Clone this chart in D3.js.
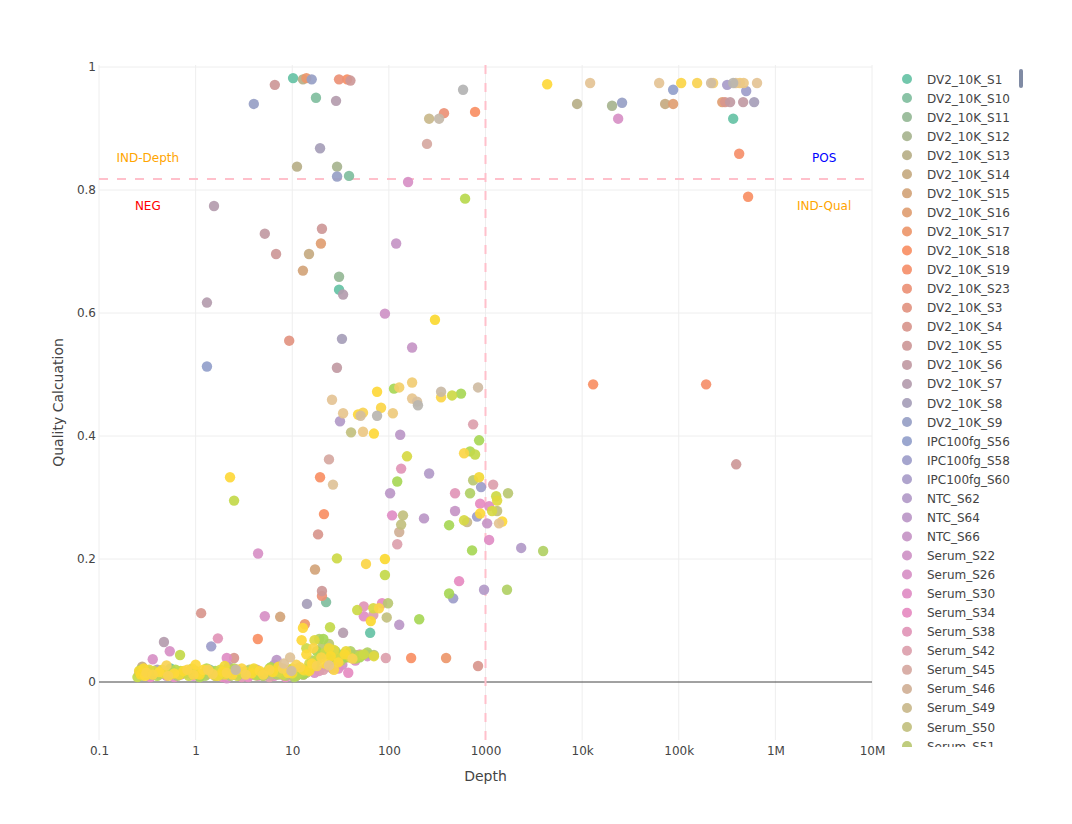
<!DOCTYPE html>
<html><head><meta charset="utf-8">
<script src="https://cdn.jsdelivr.net/npm/d3@7"></script>
<style>body{margin:0;background:#fff;} text{font-family:"DejaVu Sans",Verdana,Arial,sans-serif;}</style>
</head><body><svg id="c" width="1072" height="824"></svg>
<script>
const seriesNames = ["DV2_10K_S1","DV2_10K_S10","DV2_10K_S11","DV2_10K_S12","DV2_10K_S13","DV2_10K_S14","DV2_10K_S15","DV2_10K_S16","DV2_10K_S17","DV2_10K_S18","DV2_10K_S19","DV2_10K_S23","DV2_10K_S3","DV2_10K_S4","DV2_10K_S5","DV2_10K_S6","DV2_10K_S7","DV2_10K_S8","DV2_10K_S9",
"IPC100fg_S56","IPC100fg_S58","IPC100fg_S60","NTC_S62","NTC_S64","NTC_S66",
"Serum_S22","Serum_S26","Serum_S30","Serum_S34","Serum_S38","Serum_S42","Serum_S45","Serum_S46","Serum_S49","Serum_S50","Serum_S51",
"Serum_S52","Serum_S53","Serum_S54","Serum_S55","Serum_S56","Serum_S57","Serum_S58","Serum_S59","Serum_S60","Serum_S61","Serum_S62","Serum_S63","Serum_S64","Serum_S65","Serum_S66","Serum_S67","Serum_S68","Serum_S69","Serum_S70","Serum_S71","Serum_S72","Serum_S73","Serum_S74","Serum_S75","Serum_S76","Serum_S77","Serum_S78","Serum_S79","Serum_S80","Serum_S81"];
const paletteAnchors = ["#66c2a5","#fc8d62","#8da0cb","#e78ac3","#a6d854","#ffd92f","#e5c494","#b3b3b3"];
const xTickValues = [0.1,1,10,100,1000,1e4,1e5,1e6,1e7];
const xTickLabels = ["0.1","1","10","100","1000","10k","100k","1M","10M"];
const yTickValues = [0,0.2,0.4,0.6,0.8,1];
const depthCutoff = 1000;
const qualityCutoff = 0.818;
// [series index, depth, quality]
const points = [
[0,10.2,0.982],[4,12.9,0.98],[8,14,0.982],[18,15.9,0.98],[11,30.5,0.98],[9,37,0.98],[14,40,0.978],[14,6.6,0.971],[18,4.0,0.94],[1,17.6,0.95],[16,28.4,0.945],[65,586,0.963],[11,372,0.925],[9,780,0.927],[33,261,0.916],[62,331,0.916],[31,248,0.875],[17,19.4,0.868],[4,11.2,0.838],[3,29.1,0.838],[18,29.1,0.822],[1,38.7,0.823],[26,158,0.813],[39,615,0.786],[16,1.55,0.774],[15,5.2,0.729],[14,20.3,0.737],[7,19.8,0.713],[24,119,0.713],[14,6.8,0.696],[5,14.9,0.696],[6,12.9,0.669],[2,30.5,0.659],[0,30.5,0.638],[16,33.6,0.63],[16,1.31,0.617],[25,91,0.599],[46,300,0.589],[12,9.3,0.555],[17,32.7,0.558],[19,1.31,0.513],[47,2.27,0.333],[40,2.5,0.295],[26,4.43,0.209],
[24,174,0.544],[15,29,0.511],[52,174,0.487],[47,75.5,0.472],[37,113,0.477],[51,128,0.479],[56,25.8,0.459],[55,174,0.461],[58,196,0.456],[64,200,0.45],[61,347,0.472],[48,347,0.463],[41,451,0.466],[37,558,0.469],[60,837,0.479],[55,33.6,0.437],[47,48,0.435],[49,54,0.438],[59,51,0.433],[48,83,0.446],[64,75.5,0.433],[53,110,0.437],[22,31.2,0.424],[34,40.6,0.406],[54,54,0.407],[47,70,0.404],[23,131,0.402],[30,745,0.419],[37,859,0.393],[48,600,0.372],[38,692,0.375],[40,780,0.37],[31,24,0.362],[42,154,0.367],[9,19.4,0.333],[57,26.4,0.321],[29,134,0.347],[22,261,0.339],[37,122,0.326],[35,745,0.328],[45,859,0.333],[20,900,0.317],[30,1200,0.321],[23,103,0.307],[29,484,0.307],[36,692,0.307],[41,1290,0.302],[43,1320,0.295],[35,1710,0.307],[28,880,0.29],[27,1090,0.286],[9,21.3,0.273],[27,108,0.271],[34,140,0.271],[23,231,0.266],[24,484,0.278],[20,818,0.269],[47,880,0.274],[42,1170,0.278],[34,1320,0.278],[42,600,0.263],[33,645,0.26],[24,1040,0.258],[56,1380,0.258],[47,1490,0.261],[34,134,0.256],[32,128,0.244],[13,18.5,0.24],[37,420,0.255],[30,122,0.224],[27,1090,0.231],[37,726,0.214],[22,2340,0.218],[36,3950,0.213],[41,29,0.201],[48,58,0.192],[46,91,0.2],[6,17.2,0.183],[40,91,0.174],[14,20.3,0.148],[11,20.3,0.14],[1,22.4,0.13],[17,14.2,0.127],[28,533,0.164],[37,420,0.144],[20,463,0.136],[22,966,0.15],[36,1670,0.15],[29,55,0.123],[28,85,0.128],[35,98,0.128],[41,47,0.117],[42,69,0.12],[48,79,0.12],[27,55,0.107],[30,69,0.109],[34,95,0.105],[46,65,0.099],[23,128,0.093],[37,206,0.102],[8,13.5,0.094],[47,12.9,0.088],[40,24.6,0.089],[16,33.6,0.08],[0,64,0.08],[30,93,0.039],[9,170,0.039],[8,391,0.039],[13,837,0.026],[13,1.14,0.112],[26,5.2,0.107],[6,7.5,0.106],[16,0.47,0.065],[29,1.7,0.071],[20,1.45,0.058],[9,4.4,0.07],[26,0.54,0.05],[40,0.69,0.044],[26,0.36,0.037],[13,2.5,0.039],[27,2.1,0.039],[23,6.9,0.036],[57,9.5,0.04],
[47,4350,0.972],[4,8870,0.94],[56,12100,0.974],[3,20400,0.937],[18,25900,0.942],[26,23600,0.916],[56,62700,0.974],[19,87500,0.963],[48,106000,0.974],[5,72300,0.94],[7,87500,0.94],[49,155000,0.974],[60,216000,0.974],[52,227000,0.974],[7,282000,0.943],[13,302000,0.943],[15,340000,0.943],[21,317000,0.971],[64,366000,0.974],[55,390000,0.974],[52,430000,0.974],[54,470000,0.974],[20,499000,0.961],[0,366000,0.916],[15,464000,0.943],[17,603000,0.943],[56,646000,0.974],[10,422000,0.859],[9,522000,0.789],[9,13000,0.484],[10,192000,0.484],[14,393000,0.354],
[46,0.27,0.012],[47,0.3,0.01],[48,0.31,0.015],[45,0.45,0.02],[47,0.6,0.014],[46,0.75,0.018],[48,0.95,0.012],[47,1.2,0.02],[49,1.5,0.013],[46,1.9,0.017],[47,2.4,0.012],[48,3.0,0.022],[46,3.8,0.014],[47,4.6,0.018],[48,5.8,0.02],[46,7.2,0.025],[47,9.0,0.015],[49,11,0.028],[46,13,0.02],[47,16,0.03],[48,20,0.04],[46,25,0.042],[47,30,0.032],[45,2.0,0.026],[47,1.0,0.028],[49,0.5,0.027],[47,12.5,0.068],
[45,0.26,0.018],[46,0.29,0.022],[48,0.36,0.012],[47,0.42,0.016],[49,0.52,0.01],[45,0.68,0.012],[48,0.82,0.02],[46,1.1,0.012],[49,1.35,0.02],[45,1.7,0.01],[48,2.1,0.015],[46,2.7,0.02],[49,3.3,0.012],[45,4.0,0.022],[48,5.0,0.012],[46,6.3,0.016],[49,8.0,0.022],[45,10,0.014],[48,12,0.024],[46,15,0.018],[49,18,0.026],[47,22,0.03],[48,27,0.02],[46,35,0.045],[49,42,0.038],[47,14,0.045],[48,16.5,0.055],[45,24,0.055],
[40,0.25,0.008],[41,0.28,0.015],[43,0.33,0.02],[39,0.4,0.01],[42,0.55,0.012],[40,0.7,0.018],[41,0.85,0.01],[43,1.05,0.014],[39,1.3,0.022],[42,1.6,0.01],[40,2.2,0.018],[41,2.7,0.01],[43,3.4,0.016],[39,4.2,0.011],[42,5.2,0.015],[40,6.5,0.018],[41,8,0.012],[43,10,0.022],[39,12,0.015],[42,15,0.03],[40,18,0.035],[41,22,0.048],[43,27,0.052],[39,33,0.045],[42,40,0.04],[40,50,0.043],[41,14,0.055],[43,17,0.068],
[38,0.27,0.02],[40,0.31,0.012],[42,0.37,0.018],[44,0.47,0.014],[39,0.62,0.02],[41,0.78,0.016],[43,0.92,0.022],[38,1.15,0.012],[40,1.45,0.016],[42,1.8,0.02],[44,2.0,0.012],[39,2.5,0.022],[41,3.1,0.016],[43,3.9,0.02],[38,4.8,0.014],[40,5.8,0.022],[42,7.2,0.016],[44,9,0.018],[39,11,0.01],[41,13.5,0.018],[43,16,0.025],[38,20,0.045],[40,25,0.03],[42,30,0.04],[44,36,0.05],[39,45,0.038],[41,55,0.045],[43,70,0.042],
[36,0.35,0.012],[37,0.5,0.016],[35,0.65,0.01],[36,0.9,0.02],[37,1.1,0.008],[35,1.4,0.016],[36,1.8,0.012],[37,2.9,0.014],[35,3.6,0.02],[36,5,0.01],[37,6,0.024],[35,8.5,0.01],[36,11,0.018],[37,13,0.012],[35,16,0.025],[36,19,0.07],[37,21,0.07],[35,24,0.062],[36,28,0.05],[37,36,0.04],[35,45,0.044],[36,60,0.048],[37,18,0.05],[36,10.5,0.008],
[35,0.28,0.01],[36,0.45,0.014],[37,0.75,0.014],[35,1.0,0.018],[36,1.25,0.01],[37,1.6,0.018],[35,2.3,0.01],[36,3.3,0.018],[37,4.5,0.012],[35,5.5,0.016],[36,7,0.012],[37,9.5,0.02],[35,12.5,0.014],[36,14.5,0.022],[37,17,0.028],[35,20,0.055],[36,23,0.045],[37,26,0.04],[35,32,0.035],[36,40,0.05],[37,50,0.04],[35,70,0.044],[36,16,0.035],
[25,0.3,0.02],[26,0.42,0.012],[27,0.6,0.008],[28,0.8,0.014],[29,1.1,0.008],[25,1.6,0.01],[26,2.1,0.006],[27,2.6,0.012],[28,3.5,0.008],[29,4.4,0.01],[30,5.8,0.008],[25,7.5,0.012],[26,9.8,0.01],[27,12,0.015],[28,15,0.02],[29,19,0.018],[30,23,0.025],[27,30,0.022],[28,38,0.015],[26,45,0.035],[29,28,0.04],[25,60,0.042],
[26,0.26,0.014],[28,0.34,0.008],[25,0.5,0.01],[29,0.7,0.012],[27,0.95,0.01],[30,1.3,0.012],[28,1.9,0.008],[25,2.3,0.014],[29,3.0,0.008],[26,3.8,0.012],[30,5,0.01],[27,6.5,0.01],[28,8.5,0.008],[25,11,0.01],[29,13,0.012],[26,17,0.015],[30,21,0.02],[28,26,0.03],[25,33,0.028],[27,42,0.04],[29,50,0.045],[30,38,0.04],
[0,0.55,0.022],[1,1.4,0.02],[2,3.2,0.016],[3,11,0.014],[4,0.32,0.018],[5,0.28,0.025],[31,0.3,0.016],[32,4.3,0.02],[33,6,0.012],[34,14,0.015],[22,0.36,0.015],[23,6.5,0.028],[17,0.4,0.02],[15,2.2,0.025],[14,1.3,0.018],[55,24,0.027],[57,8.2,0.03],[62,2.6,0.02],[0,60,0.045],[3,40,0.045],[24,26,0.022],[21,17,0.03],[60,9.8,0.018]
];
const annotations = [
 {text:"IND-Depth", depth:0.32, quality:0.852, color:"#ffa500"},
 {text:"NEG", depth:0.32, quality:0.774, color:"#ff0000"},
 {text:"POS", depth:3.2e6, quality:0.852, color:"#0000ff"},
 {text:"IND-Qual", depth:3.2e6, quality:0.774, color:"#ffa500"}
];

const svg = d3.select("#c");
svg.append("rect").attr("width",1072).attr("height",824).attr("fill","#fff");
const L=99,R=872,T=65,B=740;
const x = d3.scaleLog().domain([0.1,1e7]).range([L,R]);
const y = d3.scaleLinear().domain([-0.0943,1.0033]).range([B,T]);
const colorRamp = d3.piecewise(d3.interpolateLab, paletteAnchors);
const color = i => colorRamp(i/(seriesNames.length-1));

// grid
const g = svg.append("g");
g.selectAll(".vg").data(xTickValues).join("line")
 .attr("x1",d=>x(d)).attr("x2",d=>x(d)).attr("y1",T).attr("y2",B)
 .attr("stroke","#eee").attr("stroke-width",1);
g.selectAll(".hg").data(yTickValues.filter(d=>d!==0)).join("line")
 .attr("x1",L).attr("x2",R).attr("y1",d=>y(d)).attr("y2",d=>y(d))
 .attr("stroke","#eee").attr("stroke-width",1);
g.append("line").attr("x1",L).attr("x2",R).attr("y1",y(0)).attr("y2",y(0)).attr("stroke","#444").attr("stroke-width",1);

// axes via d3 axis
const xAxis = d3.axisBottom(x).tickValues(xTickValues).tickFormat((d,i)=>xTickLabels[i]).tickSize(0).tickPadding(6);
const xa = svg.append("g").attr("transform",`translate(0,${B})`).call(xAxis);
xa.select(".domain").remove();
xa.selectAll("text").attr("fill","#444").style("font-size","12px").style("font-family","'DejaVu Sans',Verdana,sans-serif");
const yAxis = d3.axisLeft(y).tickValues(yTickValues).tickFormat(d=>d3.format("")(d)).tickSize(0).tickPadding(3);
const ya = svg.append("g").attr("transform",`translate(${L},0)`).call(yAxis);
ya.select(".domain").remove();
ya.selectAll("text").attr("fill","#444").style("font-size","12px").style("font-family","'DejaVu Sans',Verdana,sans-serif");

// cutoff lines
svg.append("line").attr("x1",L).attr("x2",R).attr("y1",y(qualityCutoff)).attr("y2",y(qualityCutoff))
 .attr("stroke","#ffc0cb").attr("stroke-width",2).attr("stroke-dasharray","9,9");
svg.append("line").attr("x1",x(depthCutoff)).attr("x2",x(depthCutoff)).attr("y1",T).attr("y2",B)
 .attr("stroke","#ffc0cb").attr("stroke-width",2).attr("stroke-dasharray","9,9");

// points
const sorted = points.slice().sort((a,b)=>a[0]-b[0]);
svg.append("g").selectAll("circle").data(sorted).join("circle")
 .attr("cx",d=>x(d[1])).attr("cy",d=>y(d[2])).attr("r",5.2)
 .attr("fill",d=>color(d[0])).attr("fill-opacity",0.92);

// annotations
svg.append("g").selectAll("text").data(annotations).join("text")
 .attr("x",d=>x(d.depth)).attr("y",d=>y(d.quality)+4).attr("text-anchor","middle")
 .attr("fill",d=>d.color).style("font-size","12px").text(d=>d.text);

// titles
svg.append("text").attr("x",(L+R)/2).attr("y",781).attr("text-anchor","middle").attr("fill","#444").style("font-size","14px").text("Depth");
svg.append("text").attr("transform",`translate(63,${(T+B)/2}) rotate(-90)`).attr("text-anchor","middle").attr("fill","#444").style("font-size","14px").text("Quality Calcuation");

// legend (scrollable in original: only the visible part is drawn)
const legendTop = 79, legendStep = 19.06, legendBottom = 747;
const visibleNames = seriesNames.filter((d,i)=>legendTop+i*legendStep-8 < legendBottom);
const defs = svg.append("defs");
defs.append("clipPath").attr("id","lc").append("rect").attr("x",890).attr("y",67).attr("width",140).attr("height",legendBottom-67);
const lg = svg.append("g").attr("clip-path","url(#lc)");
const items = lg.selectAll("g").data(visibleNames).join("g").attr("transform",(d,i)=>`translate(907,${legendTop+i*legendStep})`);
items.append("circle").attr("r",5).attr("fill",(d,i)=>color(i)).attr("fill-opacity",0.92);
items.append("text").attr("x",20).attr("y",4.5).attr("fill","#444").style("font-size","12px").text(d=>d);
svg.append("rect").attr("x",1019).attr("y",69).attr("width",4).attr("height",19).attr("rx",2).attr("fill","#808ba4");
</script></body></html>
